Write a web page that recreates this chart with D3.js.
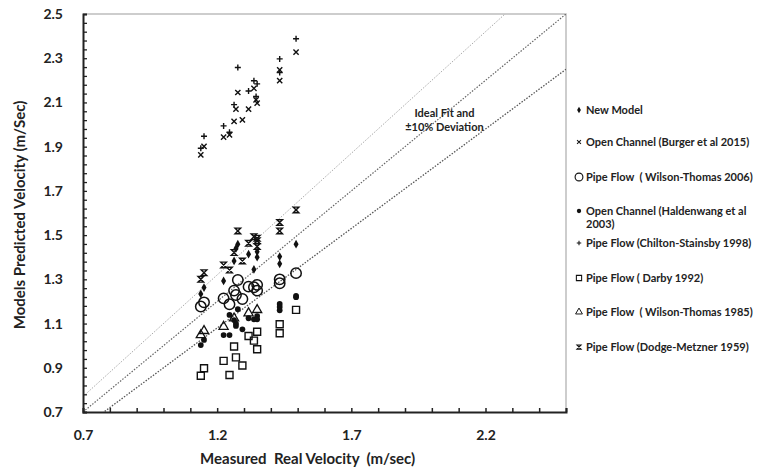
<!DOCTYPE html>
<html>
<head>
<meta charset="utf-8">
<script src="https://cdn.jsdelivr.net/npm/d3@7"></script>
<style>
  body { margin: 0; background: #fff; }
  text { font-family: Lato, "Open Sans", sans-serif; font-weight: bold; fill: #222; }
</style>
</head>
<body>
<div id="chart"></div>
<script>
const xTicks = [0.7, 1.2, 1.7, 2.2]
const yTicks = [0.7, 0.9, 1.1, 1.3, 1.5, 1.7, 1.9, 2.1, 2.3, 2.5]

// [measured, predicted]
const newModel = [[1.494,1.459],[1.433,1.403],[1.433,1.37],[1.277,1.459],[1.263,1.383],[1.337,1.345],
  [1.317,1.414],[1.349,1.425],[1.224,1.293],[1.151,1.263],[1.139,1.234],[1.27,1.44],[1.349,1.40]]
const burger = [[1.494,2.328],[1.433,2.247],[1.433,2.199],[1.337,2.164],[1.277,2.145],[1.345,2.112],
  [1.349,2.097],[1.27,2.07],[1.317,2.07],[1.263,2.014],[1.294,2.021],[1.224,1.943],[1.246,1.953],
  [1.151,1.901],[1.139,1.863]]
const wilson2006 = [[1.494,1.328],[1.433,1.30],[1.433,1.282],[1.277,1.297],[1.317,1.267],[1.337,1.264],
  [1.349,1.275],[1.349,1.249],[1.263,1.249],[1.27,1.229],[1.294,1.211],[1.224,1.214],[1.246,1.187],
  [1.151,1.196],[1.139,1.177]]
const haldenwang = [[1.494,1.225],[1.494,1.219],[1.433,1.189],[1.433,1.175],[1.433,1.16],[1.277,1.165],
  [1.263,1.116],[1.27,1.089],[1.294,1.074],[1.317,1.124],[1.337,1.119],[1.349,1.134],[1.349,1.119],
  [1.246,1.139],[1.224,1.048],[1.246,1.048],[1.151,1.026],[1.139,1.003],[1.27,1.10]]
const chilton = [[1.494,2.388],[1.433,2.297],[1.433,2.235],[1.277,2.258],[1.337,2.198],[1.349,2.184],
  [1.317,2.152],[1.345,2.127],[1.263,2.09],[1.224,1.994],[1.246,1.965],[1.151,1.947],[1.139,1.893]]
const darby = [[1.494,1.162],[1.433,1.097],[1.433,1.056],[1.349,1.063],[1.317,1.044],[1.337,1.023],
  [1.349,0.984],[1.263,0.996],[1.27,0.947],[1.294,0.91],[1.224,0.931],[1.246,0.867],[1.151,0.898],
  [1.139,0.864]]
const wilson1985 = [[1.151,1.067],[1.139,1.048],[1.224,1.086],[1.263,1.124],[1.317,1.147],[1.349,1.162]]
const dodge = [[1.494,1.614],[1.433,1.557],[1.433,1.519],[1.277,1.519],[1.337,1.493],[1.349,1.486],
  [1.317,1.463],[1.349,1.448],[1.263,1.421],[1.294,1.383],[1.224,1.365],[1.246,1.342],[1.151,1.33],
  [1.139,1.30],[1.349,1.475]]

const fitLines = [1.1, 1.0, 0.9]

const seriesNames = ["New Model", "Open Channel (Burger et al 2015)", "Pipe Flow  ( Wilson-Thomas 2006)",
  "Open Channel (Haldenwang et al\n2003)", "Pipe Flow (Chilton-Stainsby 1998)", "Pipe Flow ( Darby 1992)",
  "Pipe Flow  ( Wilson-Thomas 1985)", "Pipe Flow (Dodge-Metzner 1959)"]

const W = 764, H = 474
const margin = {top: 14, right: 198, bottom: 62, left: 83},
  width = W - margin.left - margin.right,
  height = H - margin.top - margin.bottom

const x = d3.scaleLinear().domain([0.7, 2.5]).range([0, width])
const y = d3.scaleLinear().domain([0.7, 2.5]).range([height, 0])

const svg = d3.select("#chart")
  .append("svg")
    .attr("width", W)
    .attr("height", H)
  .append("g")
    .attr("transform", "translate(" + margin.left + "," + margin.top + ")")

// frame top/right
svg.append("path")
  .attr("d", "M0,0H" + width + "V" + height)
  .attr("fill", "none").attr("stroke", "#bdbdbd").attr("stroke-width", 1.5)

// ideal fit lines
const clip = svg.append("clipPath").attr("id", "clip")
clip.append("rect").attr("width", width).attr("height", height)
const lineStyles = [{c: "#aaa", w: 1}, {c: "#666", w: 1.2}, {c: "#555", w: 1.3}]
fitLines.forEach((k, i) => {
  svg.append("line")
    .attr("clip-path", "url(#clip)")
    .attr("x1", x(0.7)).attr("y1", y(0.7 * k))
    .attr("x2", x(2.5)).attr("y2", y(2.5 * k))
    .attr("stroke", lineStyles[i].c)
    .attr("stroke-width", lineStyles[i].w)
    .attr("stroke-dasharray", "1.5,1.5")
})

svg.append("text")
  .attr("x", x(2.047)).attr("y", y(2.035))
  .attr("text-anchor", "middle").style("font-size", "11px")
  .selectAll("tspan").data(["Ideal Fit and", "±10% Deviation"]).enter()
  .append("tspan").attr("x", x(2.047)).attr("dy", (d, i) => i ? 14 : 0).text(d => d)

// axes
const xMinor = d3.range(0.7, 2.51, 0.1)
const yMinor = d3.range(0.7, 2.501, 0.04)
svg.append("g")
  .attr("transform", "translate(0," + height + ")")
  .call(d3.axisBottom(x).tickValues(xMinor).tickSize(-4).tickFormat(""))
  .call(g => g.selectAll("line").attr("stroke", "#222").attr("stroke-width", 1.5))
  .call(g => g.select(".domain").attr("stroke", "#222").attr("stroke-width", 2))
svg.append("g")
  .attr("transform", "translate(0," + height + ")")
  .call(d3.axisBottom(x).tickValues(xTicks).tickSize(0).tickPadding(18).tickFormat(d3.format(".1f")))
  .call(g => g.select(".domain").remove())
  .call(g => g.selectAll("text").style("font-size", "14px").attr("fill", "#222"))

svg.append("g")
  .call(d3.axisLeft(y).tickValues(yMinor).tickSize(-4).tickFormat(""))
  .call(g => g.selectAll("line").attr("stroke", "#222").attr("stroke-width", 1.3))
  .call(g => g.select(".domain").attr("stroke", "#222").attr("stroke-width", 2))
svg.append("g")
  .call(d3.axisLeft(y).tickValues(yTicks).tickSize(0).tickPadding(20).tickFormat(d3.format(".1f")))
  .call(g => g.select(".domain").remove())
  .call(g => g.selectAll("text").style("font-size", "14px").attr("fill", "#222"))

// axis titles
svg.append("text")
  .attr("x", x(1.5) + 10).attr("y", height + 52)
  .attr("text-anchor", "middle").style("font-size", "15px")
  .attr("xml:space", "preserve")
  .text("Measured  Real Velocity  (m/sec)")
svg.append("text")
  .attr("transform", "translate(" + (-58) + "," + (height / 2 + 2) + ") rotate(-90)")
  .attr("text-anchor", "middle").style("font-size", "15px")
  .text("Models Predicted Velocity (m/Sec)")

// markers
const cross = "M-2.6,-2.6L2.6,2.6M2.6,-2.6L-2.6,2.6"
const hourglass = "M-2.8,-2.8H2.8L-2.8,2.8H2.8Z"
const marks = [
  {data: newModel, d: d3.symbol(d3.symbolDiamond, 22)(), fill: "#111", stroke: "none"},
  {data: burger, d: cross, fill: "none", stroke: "#111", sw: 1.4},
  {data: wilson2006, d: d3.symbol(d3.symbolCircle, 85)(), fill: "none", stroke: "#111", sw: 1.5},
  {data: haldenwang, d: d3.symbol(d3.symbolCircle, 26)(), fill: "#111", stroke: "none"},
  {data: chilton, d: "M-3,0H3M0,-3V3", fill: "none", stroke: "#111", sw: 1.4},
  {data: darby, d: "M-3.5,-3.5H3.5V3.5H-3.5Z", fill: "none", stroke: "#111", sw: 1.4},
  {data: wilson1985, d: d3.symbol(d3.symbolTriangle, 36)(), fill: "none", stroke: "#111", sw: 1.3},
  {data: dodge, d: hourglass, fill: "none", stroke: "#111", sw: 1.4}
]

marks.forEach(m => {
  svg.selectAll(null)
    .data(m.data)
    .enter()
    .append("path")
      .attr("transform", d => "translate(" + x(d[0]) + "," + y(d[1]) + ")")
      .attr("d", m.d)
      .attr("fill", m.fill)
      .attr("stroke", m.stroke)
      .attr("stroke-width", m.sw || 0)
})

// legend
const legendY = [96, 128, 163, 197, 229, 264, 298, 333]
const legend = svg.append("g").attr("transform", "translate(" + (width + 13) + ",0)")
marks.forEach((m, i) => {
  const g = legend.append("g").attr("transform", "translate(0," + legendY[i] + ")")
  g.append("path")
    .attr("d", m.d)
    .attr("transform", "scale(0.75)")
    .attr("fill", m.fill)
    .attr("stroke", m.stroke)
    .attr("stroke-width", m.sw || 0)
  g.append("text")
    .attr("x", 7).attr("y", 4)
    .attr("xml:space", "preserve")
    .style("font-size", "11px")
    .selectAll("tspan").data(seriesNames[i].split("\n")).enter()
    .append("tspan").attr("x", 7).attr("dy", (d, j) => j ? 13 : 0).text(d => d)
})
</script>
</body>
</html>
